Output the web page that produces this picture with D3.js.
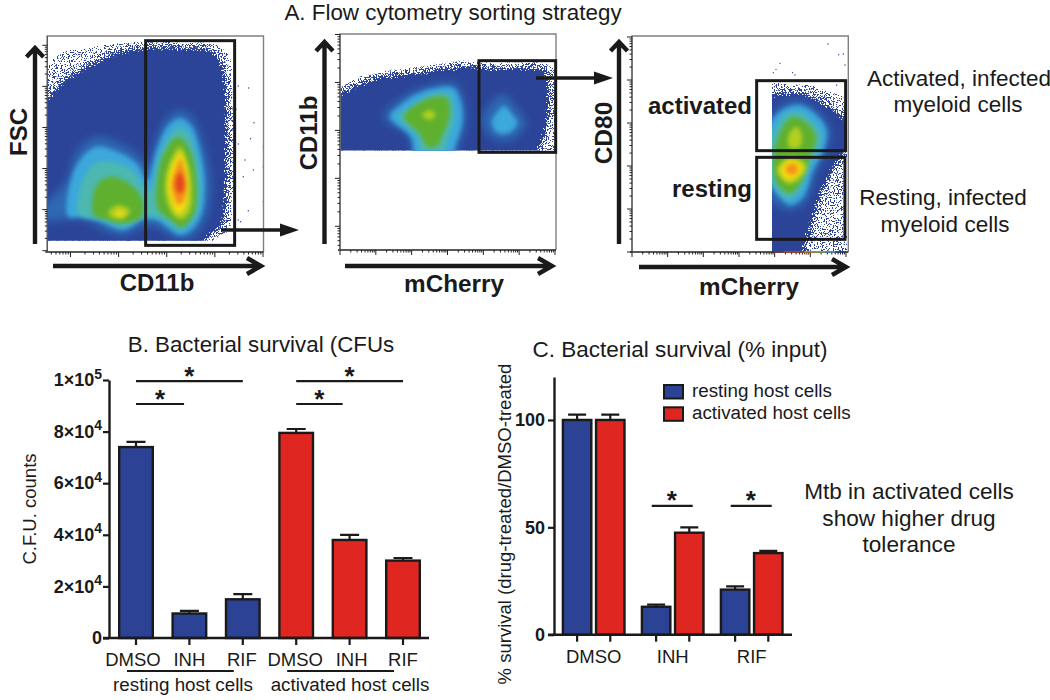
<!DOCTYPE html>
<html><head><meta charset="utf-8">
<script src="https://cdnjs.cloudflare.com/ajax/libs/d3/7.8.5/d3.min.js"></script>
<style>html,body{margin:0;padding:0;background:#fff}svg{display:block}text{font-family:"Liberation Sans",Arial,sans-serif;fill:#1a1a1a}</style>
</head><body><svg id="c" width="1050" height="700"></svg>
<script>
// ---- Panel B data ----
const cfuGroups = ["DMSO","INH","RIF","DMSO ","INH ","RIF "];
const cfuMeans  = [74000, 9500, 15000, 79500, 38000, 30000];
const cfuUpper  = [76000, 10500, 17000, 81000, 40000, 31000];
const cfuTicks  = [0, 20000, 40000, 60000, 80000, 100000];
const cfuTickLabels = [["0",""],["2×10","4"],["4×10","4"],["6×10","4"],["8×10","4"],["1×10","5"]];
const cfuSig = [[0,2.0,99600],[0,0.9,90700],[3,5.0,99600],[3,3.87,90700]];
const cfuHostLabels = ["resting host cells","activated host cells"];
// ---- Panel C data ----
const pctDrugs = ["DMSO","INH","RIF"];
const pctHosts = ["resting","activated"];
const pctResting   = [100, 13, 21];
const pctActivated = [100, 47.5, 38];
const pctRestingUp   = [102.5, 14, 22.5];
const pctActivatedUp = [102.5, 50, 39];
const pctTicks = [0, 50, 100];
// ---- Flow cytometry density outlines (channel units, [level, outline]) ----
const fscBase = [[100,40],[100,270],[145,235],[185,190],[255,145],[335,105],[430,85],[540,85],[630,90],[662,125],[676,200],[680,400],[676,560],[665,615],[630,645],[590,680],[100,700]];
const fscSparse = [[100,60],[100,260],[145,135],[175,95],[245,85],[325,70],[430,62],[540,65],[650,72],[692,110],[700,200],[702,400],[700,560],[690,630],[650,660],[590,690],[100,700]];
const fscLevels = [
 [0,[[100,592],[200,480],[230,395],[290,350],[350,365],[415,405],[445,440],[465,370],[500,295],[540,270],[580,295],[610,370],[632,480],[620,590],[585,645],[540,660],[500,640],[470,620],[430,620],[370,648],[300,625],[250,600],[100,602]]],
 [1,[[205,590],[210,490],[240,420],[290,380],[350,395],[410,430],[442,480],[468,395],[502,320],[540,295],[572,315],[596,375],[614,480],[606,578],[578,626],[540,645],[505,625],[470,600],[430,600],[370,630],[300,605],[250,590]]],
 [2,[[238,585],[242,500],[285,430],[350,430],[400,455],[440,510],[452,510],[478,410],[512,345],[540,322],[568,345],[590,415],[600,480],[594,572],[568,612],[540,630],[510,610],[470,590],[425,590],[370,618],[305,598]]],
 [3,[[282,585],[287,500],[330,470],[385,490],[425,535],[425,590],[370,610],[310,597]]],
 [3,[[470,500],[490,405],[535,350],[572,395],[588,480],[583,578],[545,622],[510,598],[475,568]]],
 [4,[[325,578],[355,555],[390,572],[370,596],[335,592]]],
 [4,[[495,500],[510,425],[540,380],[563,425],[576,500],[568,578],[540,598],[510,568]]],
 [5,[[345,580],[362,572],[376,580],[360,590]]],
 [5,[[505,490],[522,425],[542,400],[556,435],[563,500],[556,562],[535,582],[515,548]]],
 [6,[[516,490],[530,440],[542,415],[552,445],[560,495],[550,545],[535,555],[522,530]]],
 [7,[[526,490],[540,455],[553,490],[546,518],[535,518]]]
];
const fscStray = [[715,198],[746,204],[762,308],[752,356],[715,372],[790,380],[735,420],[760,450],[730,470],[790,545],[745,572],[715,600],[722,605],[708,268],[702,350],[790,440]];
const fscGate = [437,62,704,676];

const cd11Base = [[60,440],[60,232],[120,222],[175,195],[260,172],[350,160],[430,148],[500,140],[560,145],[650,146],[730,150],[745,200],[742,300],[725,360],[690,440],[60,460]];
const cd11Sparse = [[60,440],[60,208],[120,195],[170,170],[260,150],[350,138],[430,128],[500,122],[560,128],[650,128],[745,130],[770,150],[775,300],[775,440],[60,460]];
const cd11Levels = [
 [0,[[250,292],[295,240],[360,205],[465,190],[488,225],[498,300],[480,370],[455,420],[345,420],[325,350]]],
 [1,[[270,290],[305,252],[360,218],[458,203],[478,232],[488,300],[468,372],[448,420],[352,420],[332,350]]],
 [2,[[296,290],[335,258],[390,226],[448,222],[458,250],[462,300],[442,360],[425,420],[372,420],[352,350]]],
 [3,[[312,290],[358,248],[420,228],[444,238],[448,290],[428,345],[408,380],[382,380],[358,340]]],
 [4,[[366,285],[390,270],[406,285],[390,300]]],
 [0,[[545,305],[575,245],[610,222],[648,262],[678,310],[638,358],[582,358]]],
 [1,[[575,305],[595,272],[612,258],[636,282],[652,310],[628,338],[592,338]]]
];
const cd11Stray = [[530,380],[518,372],[510,385],[140,350],[150,370],[135,380]];
const cd11Gate = [537,122,767,397];

const cd80Base = [[517,660],[517,165],[560,160],[620,165],[670,190],[715,220],[745,262],[740,320],[705,375],[670,445],[640,530],[618,600],[600,660]];
const cd80Sparse = [[505,660],[505,122],[560,128],[620,130],[680,150],[738,175],[760,260],[745,345],[735,500],[732,660]];
const cd80Levels = [
 [0,[[505,260],[545,195],[600,182],[658,218],[692,272],[680,335],[650,395],[620,480],[575,510],[505,470]]],
 [1,[[505,262],[550,208],[600,196],[650,226],[680,272],[670,332],[640,390],[610,470],[570,495],[530,460],[505,420]]],
 [2,[[520,280],[560,222],[605,218],[640,248],[664,285],[652,335],[625,385],[602,445],[568,478],[530,450],[510,400]]],
 [3,[[532,300],[575,232],[622,250],[648,292],[635,340],[618,382],[602,428],[570,460],[535,435],[520,390]]],
 [4,[[566,285],[590,260],[606,285],[598,322],[568,322]]],
 [4,[[530,388],[570,352],[620,375],[602,414],[565,432]]],
 [5,[[542,390],[572,360],[608,380],[585,412],[560,418]]],
 [6,[[555,390],[575,370],[595,385],[580,405]]]
];
const cd80Stray = [[684,12],[716,44],[730,42],[735,75],[540,70],[528,88],[578,98],[585,105],[520,98],[725,120],[710,135],[735,180]];
const cd80Stripe = ["#8a2a20","#c0392b","#c0392b","#d9822b","#7fb03c","#3a9fc0","#2b4498"];
const cd80Gates = [[470,122,737,332],[470,352,735,598]];

const svg = d3.select("#c");
const ink = "#1a1a1a", blue = "#2b4295", red = "#e02620";
const levelColor = d3.scaleOrdinal().domain(d3.range(8)).range(["#2e69b4","#3ca8db","#4cb8b0","#5fb02e","#b2cf20","#f6dc12","#f29119","#e4431e"]);
const defs = svg.append("defs");
[["soft",1.9],["softer",4]].forEach(([id,s])=>defs.append("filter").attr("id",id).attr("filterUnits","userSpaceOnUse").attr("x",0).attr("y",0).attr("width",1050).attr("height",700).attr("color-interpolation-filters","sRGB").append("feGaussianBlur").attr("stdDeviation",s));

function speck(id, sigma, seed, k1, k2, k4){
  const f = defs.append("filter").attr("id",id).attr("filterUnits","userSpaceOnUse").attr("x",0).attr("y",0).attr("width",1050).attr("height",700).attr("color-interpolation-filters","sRGB");
  f.append("feGaussianBlur").attr("in","SourceAlpha").attr("stdDeviation",sigma).attr("result","b");
  f.append("feTurbulence").attr("type","fractalNoise").attr("baseFrequency",0.75).attr("numOctaves",2).attr("seed",seed).attr("result","n");
  f.append("feColorMatrix").attr("in","n").attr("type","matrix").attr("values",`0 0 0 0 0 0 0 0 0 0 0 0 0 0 0 3.4 0 0 0 -1.2`).attr("result","na");
  f.append("feComposite").attr("in","b").attr("in2","na").attr("operator","arithmetic").attr("k1",k1).attr("k2",k2).attr("k3",k1?0:1).attr("k4",k4).attr("result","m");
  const t = f.append("feComponentTransfer").attr("in","m").attr("result","th");
  t.append("feFuncA").attr("type","linear").attr("slope",14);
  f.append("feFlood").attr("flood-color","#2b4498").attr("result","fl");
  f.append("feComposite").attr("in","fl").attr("in2","th").attr("operator","in");
}
speck("sp",3,5,0,1.3,-1);
speck("sparse",1.5,9,1,0,-0.72);

function logTicks(lo, hi){
  const out=[];
  for(let e=Math.floor(Math.log10(lo)); e<=Math.ceil(Math.log10(hi)); e++)
    for(let m=1;m<10;m++){const v=m*10**e; if(v>=lo*0.999&&v<=hi*1.001) out.push([v,m===1]);}
  return out;
}
function flowPlot(o){
  const g = svg.append("g");
  const xc = d3.scaleLinear().domain(o.xd).range([o.x0,o.x1]);
  const yc = d3.scaleLinear().domain(o.yd).range([o.y1,o.y0]);
  const clip = o.id+"clip";
  defs.append("clipPath").attr("id",clip).append("rect").attr("x",o.cx0).attr("y",o.cy0).attr("width",o.cx1-o.cx0).attr("height",o.cy1-o.cy0);
  const closed = d3.line().x(d=>xc(d[0])).y(d=>yc(d[1])).curve(d3.curveCatmullRomClosed.alpha(0.5));
  const dens = g.append("g").attr("clip-path",`url(#${clip})`);
  dens.append("path").attr("d",closed(o.sparse)).attr("fill","#000").attr("filter","url(#sparse)");
  dens.append("path").attr("d",closed(o.base)).attr("fill","#000").attr("filter","url(#sp)");
  const L = dens.append("g");
  L.selectAll("path").data(o.levels).join("path").attr("d",d=>closed(d[1])).attr("fill",d=>levelColor(d[0]))
    .attr("filter",d=>d[0]===0?"url(#softer)":"url(#soft)");
  g.selectAll("circle.s").data(o.stray).join("circle").attr("class","s").attr("cx",d=>xc(d[0])).attr("cy",d=>yc(d[1])).attr("r",0.7).attr("fill","#2b4498");
  const fx0=o.fx0, fx1=o.fx1, fy0=o.fy0, fy1=o.fy1;
  g.append("path").attr("d",`M${fx0},${fy1}V${fy0}H${fx1}V${fy1}`).attr("fill","none").attr("stroke","#808080").attr("stroke-width",1.4);
  const lx = d3.scaleLog().domain(o.lxd).range(o.lxr);
  const ly = d3.scaleLog().domain(o.lyd).range(o.lyr);
  g.append("line").attr("x1",fx0-2).attr("x2",fx1).attr("y1",fy1).attr("y2",fy1).attr("stroke","#222").attr("stroke-width",1.4);
  g.append("line").attr("x1",fx0).attr("x2",fx0).attr("y1",fy0).attr("y2",fy1).attr("stroke","#555").attr("stroke-width",1.2);
  g.selectAll("line.tx").data(logTicks(...o.lxd)).join("line").attr("class","tx").attr("x1",d=>lx(d[0])).attr("x2",d=>lx(d[0])).attr("y1",fy1).attr("y2",d=>fy1+(d[1]?5:2.5)).attr("stroke","#222").attr("stroke-width",1);
  g.selectAll("line.ty").data(logTicks(...o.lyd)).join("line").attr("class","ty").attr("y1",d=>ly(d[0])).attr("y2",d=>ly(d[0])).attr("x1",fx0).attr("x2",d=>fx0-(d[1]?5:2.5)).attr("stroke","#222").attr("stroke-width",1);
  g.selectAll("rect.g").data(o.gates).join("rect").attr("class","g").attr("x",d=>xc(d[0])).attr("y",d=>yc(d[1])).attr("width",d=>xc(d[2])-xc(d[0])).attr("height",d=>yc(d[3])-yc(d[1])).attr("fill","none").attr("stroke",ink).attr("stroke-width",3);
}
flowPlot({id:"a",xd:[142,790],yd:[695,48],x0:47.3,x1:263.3,y0:36,y1:251.7,cx0:48,cx1:263,cy0:36,cy1:240.7,
  base:fscBase,sparse:fscSparse,levels:fscLevels,stray:fscStray,gates:[fscGate],fx0:47.3,fx1:263.5,fy0:36,fy1:252,
  lxd:[3.3,1e5],lxr:[47.3,263],lyd:[1,1e5],lyr:[250.7,45.3]});
flowPlot({id:"b",xd:[120,768],yd:[690,42],x0:340,x1:556,y0:34,y1:250,cx0:340.5,cx1:555.5,cy0:34,cy1:150.5,
  base:cd11Base,sparse:cd11Sparse,levels:cd11Levels,stray:cd11Stray,gates:[cd11Gate],fx0:340,fx1:556,fy0:34,fy1:250,
  lxd:[1,1e6],lxr:[340,555],lyd:[3.2,1e5],lyr:[250,34.5]});
flowPlot({id:"c",xd:[96,745],yd:[636,-12],x0:632,x1:848.3,y0:36,y1:252,cx0:772,cx1:847,cy0:36,cy1:252,
  base:cd80Base,sparse:cd80Sparse,levels:cd80Levels,stray:cd80Stray,gates:cd80Gates,fx0:632,fx1:848.3,fy0:36,fy1:252,
  lxd:[1,1e6],lxr:[632,846],lyd:[1,1e5],lyr:[252,37]});
const stripeX = d3.scaleBand().domain(d3.range(cd80Stripe.length)).range([773,846]);
svg.selectAll("rect.st").data(cd80Stripe).join("rect").attr("class","st").attr("x",(d,i)=>stripeX(i)).attr("y",251).attr("width",stripeX.bandwidth()).attr("height",1.6).attr("fill",d=>d);

function chevUp(x,y0,y1){svg.append("path").attr("d",`M${x},${y0}V${y1+1}M${x-8.5},${y1+10}L${x},${y1+1}L${x+8.5},${y1+10}`).attr("fill","none").attr("stroke",ink).attr("stroke-width",4.4);}
function chevRight(y,x0,x1){svg.append("path").attr("d",`M${x0},${y}H${x1-1}M${x1-15},${y-8}L${x1-1},${y}L${x1-15},${y+8}`).attr("fill","none").attr("stroke",ink).attr("stroke-width",4.4);}
function solidRight(y,x0,x1){svg.append("path").attr("d",`M${x0},${y}H${x1-15}`).attr("stroke",ink).attr("stroke-width",3.4);svg.append("path").attr("d",`M${x1-19},${y-6.5}L${x1},${y}L${x1-19},${y+6.5}Z`).attr("fill",ink);}
chevUp(35,244,47); chevRight(266,53,262); solidRight(230,221,299);
chevUp(324.5,244,41); chevRight(266,345,553); solidRight(78,536,613);
chevUp(619,244,41); chevRight(267,639,847);

function T(s,x,y,size,o={}){
  const t=svg.append("text").attr("x",x).attr("y",y).attr("font-size",size).attr("text-anchor",o.a||"middle").attr("font-weight",o.b?"bold":"normal").text(s);
  if(o.r) t.attr("transform",`rotate(-90 ${x} ${y})`);
  return t;
}
T("A. Flow cytometry sorting strategy",453,20.4,22.4);
T("FSC",27,132,24,{b:1,r:1});
T("CD11b",157,291,24,{b:1});
T("CD11b",317,133,24,{b:1,r:1});
T("mCherry",454,292,24.3,{b:1});
T("CD80",612,133,24.5,{b:1,r:1});
T("mCherry",749,295,24.3,{b:1});
T("activated",752,114,24,{b:1,a:"end"});
T("resting",752,197,24,{b:1,a:"end"});
T("Activated, infected",959,86,22.5);
T("myeloid cells",958,112,22.5);
T("Resting, infected",943,205,22.5);
T("myeloid cells",945,232,22.5);
T("Mtb in activated cells",909,499,22.6);
T("show higher drug",909,526,22.6);
T("tolerance",909,552,22.6);
T("B. Bacterial survival (CFUs",261,352,22.3);
T("C. Bacterial survival (% input)",680,357,22.5);

// ---- Panel B ----
const yB = d3.scaleLinear().domain([0,1e5]).range([638,380]);
const xB = d3.scaleBand().domain(cfuGroups).range([118,421]).paddingInner(0.326).paddingOuter(0);
const cfuColor = i => i<3?blue:red;
const gB = svg.append("g");
function styleAxis(g){g.select(".domain").attr("stroke",ink).attr("stroke-width",2.4);g.selectAll(".tick line").attr("stroke",ink).attr("stroke-width",2.2);}
gB.selectAll("rect").data(cfuMeans).join("rect").attr("x",(d,i)=>xB(cfuGroups[i])+1.2).attr("y",d=>yB(d)).attr("width",xB.bandwidth()-2.4).attr("height",d=>yB(0)-yB(d)).attr("fill",(d,i)=>cfuColor(i)).attr("stroke",ink).attr("stroke-width",2.4);
function errs(sel,data){
  sel.selectAll("path.e").data(data).join("path").attr("class","e").attr("d",d=>`M${d.x},${d.y0}V${d.y1}M${d.x-d.w},${d.y1}H${d.x+d.w}`).attr("fill","none").attr("stroke",ink).attr("stroke-width",2.2);
}
errs(gB,cfuMeans.map((m,i)=>({x:xB(cfuGroups[i])+xB.bandwidth()/2,y0:yB(m),y1:yB(cfuUpper[i]),w:9.5})));
const axYB = svg.append("g").attr("transform","translate(109,0)").call(d3.axisLeft(yB).tickValues(cfuTicks).tickSize(6).tickSizeOuter(0).tickFormat(""));
styleAxis(axYB);
axYB.selectAll(".tick").each(function(d,i){
  const t=d3.select(this).select("text").attr("fill",null).attr("font-size",18).attr("font-weight","bold").attr("font-family",null).attr("dy","0.32em").attr("x",-7);
  t.text(null); const L=cfuTickLabels[i];
  t.append("tspan").text(L[0]);
  if(L[1]) t.append("tspan").attr("font-size",14).attr("dy","-0.55em").text(L[1]);
});
const axXB = svg.append("g").attr("transform",`translate(0,638)`).call(d3.axisBottom(xB).tickSize(7).tickSizeOuter(0));
axXB.select(".domain").attr("d","M103,0H429");
styleAxis(axXB);
axXB.selectAll(".tick text").attr("fill",null).attr("font-size",18.5).attr("font-family",null).attr("y",11).attr("dy","0.9em");
const labelNudge = [-3,0,-1,-1,2,0];
axXB.selectAll(".tick").select("text").attr("dx",(d,i)=>labelNudge[i]);
const sigX = d3.scaleLinear().domain([0,5]).range([xB(cfuGroups[0])+xB.bandwidth()/2,xB(cfuGroups[5])+xB.bandwidth()/2]);
svg.selectAll("line.sb").data(cfuSig).join("line").attr("class","sb").attr("x1",d=>sigX(d[0])).attr("x2",d=>sigX(d[1])).attr("y1",d=>yB(d[2])).attr("y2",d=>yB(d[2])).attr("stroke",ink).attr("stroke-width",2.2);
svg.selectAll("text.sbt").data(cfuSig).join("text").attr("class","sbt").attr("text-anchor","middle").attr("font-size",26).attr("font-weight","bold").attr("x",d=>(sigX(d[0])+sigX(d[1]))/2).attr("y",d=>yB(d[2])+4).text("*");
const hostSpan = [[0,2],[3,5]];
svg.selectAll("line.h").data(hostSpan).join("line").attr("class","h").attr("x1",d=>sigX(d[0])-9).attr("x2",d=>sigX(d[1])-9).attr("y1",671).attr("y2",671).attr("stroke",ink).attr("stroke-width",2.2);
T(cfuHostLabels[0],183,691,18.8); T(cfuHostLabels[1],350,691,18.8);
T("C.F.U. counts",36,509,18.5,{r:1});

// ---- Panel C ----
const yC = d3.scaleLinear().domain([0,120]).range([634.7,377]);
const xC = d3.scaleBand().domain(pctDrugs).range([561.7,783.7]).paddingInner(0.19).paddingOuter(0);
const xCs = d3.scaleBand().domain(pctHosts).range([0,xC.bandwidth()]).paddingInner(0.07).paddingOuter(0);
const hostColor = d3.scaleOrdinal().domain(pctHosts).range([blue,red]);
const rowsC = pctDrugs.flatMap((k,i)=>[
  {k,h:"resting",v:pctResting[i],u:pctRestingUp[i]},
  {k,h:"activated",v:pctActivated[i],u:pctActivatedUp[i]}]);
const gC = svg.append("g");
gC.selectAll("rect").data(rowsC).join("rect").attr("x",d=>xC(d.k)+xCs(d.h)+1.2).attr("y",d=>yC(d.v)).attr("width",xCs.bandwidth()-2.4).attr("height",d=>yC(0)-yC(d.v)).attr("fill",d=>hostColor(d.h)).attr("stroke",ink).attr("stroke-width",2.4);
errs(gC,rowsC.map(d=>({x:xC(d.k)+xCs(d.h)+xCs.bandwidth()/2,y0:yC(d.v),y1:yC(d.u),w:9})));
const axYC = svg.append("g").attr("transform","translate(554,0)").call(d3.axisLeft(yC).tickValues(pctTicks).tickSize(6).tickSizeOuter(0).tickFormat(d3.format("d")));
styleAxis(axYC);
axYC.selectAll(".tick text").attr("fill",null).attr("font-size",18).attr("font-weight","bold").attr("font-family",null).attr("x",-9);
const axXC = svg.append("g").attr("transform","translate(0,634.7)");
axXC.append("path").attr("class","domain").attr("d","M548,0H792");
axXC.selectAll("line").data(rowsC).join("line").attr("x1",d=>xC(d.k)+xCs(d.h)+xCs.bandwidth()/2).attr("x2",d=>xC(d.k)+xCs(d.h)+xCs.bandwidth()/2).attr("y1",0).attr("y2",7).attr("stroke",ink).attr("stroke-width",2.2);
axXC.select(".domain").attr("fill","none").attr("stroke",ink).attr("stroke-width",2.4);
axXC.selectAll("text").data(pctDrugs).join("text").attr("x",d=>xC(d)+xC.bandwidth()/2).attr("y",28).attr("text-anchor","middle").attr("font-size",18.5).text(d=>d);
const sigC = [["INH",60],["RIF",60]];
svg.selectAll("line.sc").data(sigC).join("line").attr("class","sc").attr("x1",d=>xC(d[0])+11).attr("x2",d=>xC(d[0])+52).attr("y1",d=>yC(d[1])).attr("y2",d=>yC(d[1])).attr("stroke",ink).attr("stroke-width",2.4);
svg.selectAll("text.sct").data(sigC).join("text").attr("class","sct").attr("text-anchor","middle").attr("font-size",26).attr("font-weight","bold").attr("x",d=>xC(d[0])+31).attr("y",d=>yC(d[1])+3).text("*");
T("% survival (drug-treated/DMSO-treated",511,524,18.5,{r:1});
const legend = svg.selectAll("g.l").data(pctHosts).join("g").attr("class","l").attr("transform",(d,i)=>`translate(664,${385+i*22.3})`);
legend.append("rect").attr("width",19).attr("height",13.5).attr("fill",d=>hostColor(d)).attr("stroke",ink).attr("stroke-width",2);
legend.append("text").attr("x",28).attr("y",12).attr("font-size",18.8).text((d,i)=>cfuHostLabels[i]);
</script></body></html>
